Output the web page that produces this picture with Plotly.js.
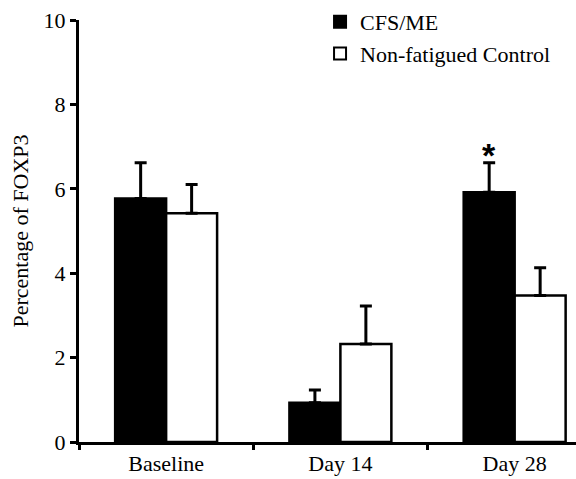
<!DOCTYPE html>
<html>
<head>
<meta charset="utf-8">
<script src="https://cdn.plot.ly/plotly-3.0.1.min.js"></script>
<style>html,body{margin:0;padding:0;background:#fff;}#chart{width:576px;height:479px;}</style>
</head>
<body>
<div id="chart"></div>
<script>
var categories = ['Baseline', 'Day 14', 'Day 28'];
var cfsValues = [5.77, 0.93, 5.92];
var cfsErrors = [0.85, 0.30, 0.70];
var controlValues = [5.42, 2.32, 3.47];
var controlErrors = [0.68, 0.90, 0.66];
var cfsName = 'CFS/ME';
var controlName = 'Non-fatigued Control';
var sigMarks = ['', '', '*'];
var yTicks = [0, 2, 4, 6, 8, 10];

var font = {family: 'Liberation Serif, Times New Roman, serif', size: 22, color: '#000'};

var traces = [
  {
    type: 'bar', name: cfsName, x: categories, y: cfsValues,
    marker: {color: '#000', line: {color: '#000', width: 2.5}},
    error_y: {type: 'data', array: cfsErrors, symmetric: false, arrayminus: [0,0,0], color: '#000', thickness: 3, width: 6}
  },
  {
    type: 'bar', name: controlName, x: categories, y: controlValues,
    marker: {color: '#fff', line: {color: '#000', width: 2.5}},
    error_y: {type: 'data', array: controlErrors, symmetric: false, arrayminus: [0,0,0], color: '#000', thickness: 3, width: 6}
  }
];

var annotations = [];
sigMarks.forEach(function (m, i) {
  if (!m) return;
  annotations.push({
    x: categories[i], y: cfsValues[i] + cfsErrors[i], xref: 'x', yref: 'y',
    text: '<b>' + m + '</b>', showarrow: false, xshift: -26, yanchor: 'bottom', yshift: -13,
    font: {family: 'Liberation Sans, Arial, sans-serif', size: 34, color: '#000'}
  });
});

var layout = {
  width: 576, height: 479,
  margin: {l: 79, r: 0, t: 20, b: 37, pad: 0},
  paper_bgcolor: '#fff', plot_bgcolor: '#fff',
  font: font,
  barmode: 'group', bargap: 0.415, bargroupgap: 0,
  showlegend: true,
  legend: {
    x: 0.485, y: 1.045, xanchor: 'left', yanchor: 'top',
    bgcolor: 'rgba(0,0,0,0)', borderwidth: 0,
    font: font, tracegroupgap: 6, itemsizing: 'constant'
  },
  xaxis: {
    type: 'category', range: [-0.5, 2.352], showgrid: false, zeroline: false,
    showline: true, linecolor: '#000', linewidth: 3,
    ticks: 'outside', tickson: 'boundaries', ticklen: 5, tickwidth: 3, tickcolor: '#000',
    tickfont: font, fixedrange: true
  },
  yaxis: {
    range: [0, 10], tickvals: yTicks, showgrid: false, zeroline: false,
    showline: true, linecolor: '#000', linewidth: 3,
    ticks: 'outside', ticklen: 6, tickwidth: 3, tickcolor: '#000',
    tickfont: font, title: {text: 'Percentage of FOXP3', font: font, standoff: 9}
  },
  annotations: annotations
};

Plotly.newPlot('chart', traces, layout, {displayModeBar: false, staticPlot: true});
</script>
</body>
</html>
